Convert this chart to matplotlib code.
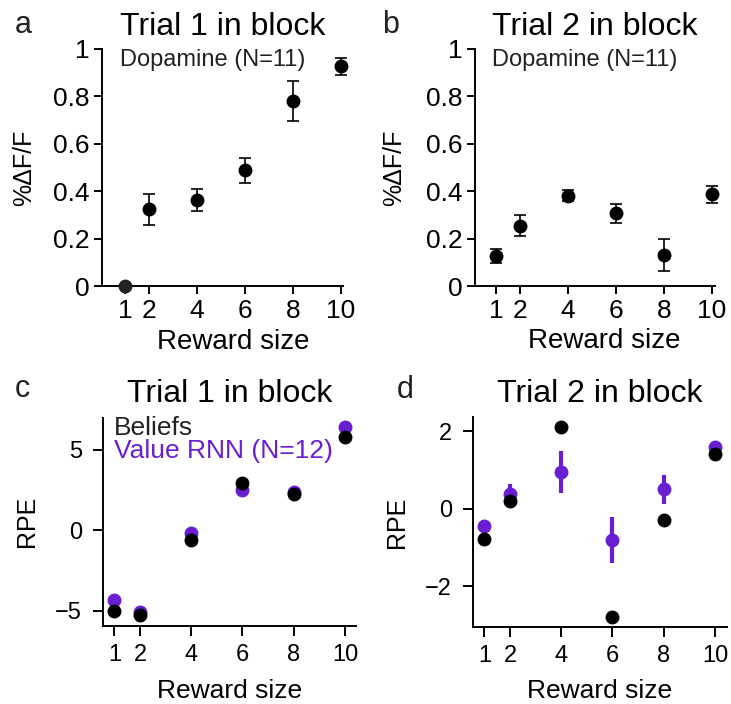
import matplotlib
matplotlib.use("Agg")
import matplotlib.pyplot as plt
import numpy as np

plt.rcParams['font.family'] = ['Liberation Sans', 'DejaVu Sans']
plt.rcParams['axes.unicode_minus'] = True

# ---------------- data ----------------
reward = [1, 2, 4, 6, 8, 10]
xticks = [1, 2, 4, 6, 8, 10]

da_trial1 = [0.0, 0.324, 0.362, 0.489, 0.781, 0.927]
da_trial1_err = [0.0, 0.066, 0.046, 0.053, 0.085, 0.035]
da_trial2 = [0.127, 0.254, 0.381, 0.306, 0.130, 0.388]
da_trial2_err = [0.031, 0.044, 0.024, 0.042, 0.068, 0.036]

rpe_t1_beliefs = [-5.00, -5.25, -0.58, 2.97, 2.28, 5.81]
rpe_t1_rnn = [-4.36, -5.06, -0.15, 2.53, 2.39, 6.41]
rpe_t1_rnn_err = [0.12, 0.12, 0.12, 0.12, 0.12, 0.12]

rpe_t2_beliefs = [-0.78, 0.21, 2.10, -2.80, -0.29, 1.41]
rpe_t2_rnn = [-0.44, 0.39, 0.94, -0.81, 0.50, 1.60]
rpe_t2_rnn_err = [0.08, 0.25, 0.54, 0.59, 0.38, 0.06]

PURPLE = '#6A1ED2'
W, H = 731, 704
fig = plt.figure(figsize=(W / 100, H / 100), dpi=100)


def add_axes_px(left, top, right, bottom):
    return fig.add_axes([left / W, 1 - bottom / H, (right - left) / W, (bottom - top) / H])


def style(ax, box, ylabel, xlabel_x_px, xlabel_base_px, ylabel_x_px,
          ticksize, ticklen, tickpad, xlabsize, ylabsize, ypad=None):
    left, top, right, bottom = box
    for s in ['top', 'right']:
        ax.spines[s].set_visible(False)
    for s in ['left', 'bottom']:
        ax.spines[s].set_linewidth(1.4)
    ax.tick_params(direction='out', length=ticklen, width=1.4, labelsize=ticksize, pad=tickpad)
    if ypad is not None:
        ax.tick_params(axis='y', pad=ypad)
    ax.set_xticks(xticks)
    ax.set_xlabel('Reward size', fontsize=xlabsize)
    ax.xaxis.set_label_coords((xlabel_x_px - left) / (right - left),
                              (bottom - xlabel_base_px) / (bottom - top))
    ax.xaxis.label.set_va('baseline')
    ax.set_ylabel(ylabel, fontsize=ylabsize)
    ax.yaxis.set_label_coords((ylabel_x_px - left) / (right - left), 0.5)
    ax.yaxis.label.set_va('center')


TOP_KW = dict(ticksize=19, ticklen=6, tickpad=3, xlabsize=20, ylabsize=18)
BOT_KW = dict(ticksize=17, ticklen=7, tickpad=6, xlabsize=19, ylabsize=18, ypad=8)

# ---------- panel a ----------
box_a = (101.7, 49, 343.3, 286)
ax = add_axes_px(*box_a)
ax.errorbar(reward[1:], da_trial1[1:], yerr=da_trial1_err[1:], fmt='o', color='black',
            ms=9, elinewidth=1.2, capsize=4, capthick=1.2, clip_on=False, zorder=3)
ax.plot(reward[:1], da_trial1[:1], 'o', color='#222222', ms=9, clip_on=False, zorder=4)
ax.set_xlim(0.03, 10.1)
ax.set_ylim(0, 1)
ax.set_yticks([0, 0.2, 0.4, 0.6, 0.8, 1])
ax.set_yticklabels(['0', '0.2', '0.4', '0.6', '0.8', '1'])
style(ax, box_a, '%ΔF/F', 233, 349, 24, **TOP_KW)
ax.set_title('Trial 1 in block', fontsize=23, pad=10)
ax.text(0.076, 0.928, 'Dopamine (N=11)', transform=ax.transAxes, fontsize=17,
        ha='left', va='baseline', color='#222222')

# ---------- panel b ----------
box_b = (475, 49, 714.5, 286)
ax = add_axes_px(*box_b)
ax.errorbar(reward, da_trial2, yerr=da_trial2_err, fmt='o', color='black',
            ms=9, elinewidth=1.2, capsize=4, capthick=1.2, clip_on=False, zorder=3)
ax.set_xlim(0.12, 10.1)
ax.set_ylim(0, 1)
ax.set_yticks([0, 0.2, 0.4, 0.6, 0.8, 1])
ax.set_yticklabels(['0', '0.2', '0.4', '0.6', '0.8', '1'])
style(ax, box_b, '%ΔF/F', 604.5, 348, 394, **TOP_KW)
ax.set_title('Trial 2 in block', fontsize=23, pad=10)
ax.text(0.07, 0.928, 'Dopamine (N=11)', transform=ax.transAxes, fontsize=17,
        ha='left', va='baseline', color='#222222')

# ---------- panel c ----------
box_c = (102.8, 417.7, 356.5, 626)
ax = add_axes_px(*box_c)
ax.errorbar(reward, rpe_t1_rnn, yerr=rpe_t1_rnn_err, fmt='o', color=PURPLE,
            ms=9, elinewidth=3, capsize=0, zorder=3)
ax.plot(reward, rpe_t1_beliefs, 'o', color='black', ms=9, zorder=4)
ax.set_xlim(0.55, 10.45)
ax.set_ylim(-5.95, 7.0)
ax.set_yticks([-5, 0, 5])
style(ax, box_c, 'RPE', 229.7, 698, 26.5, **BOT_KW)
ax.set_title('Trial 1 in block', fontsize=23, pad=11)
ax.text(0.044, 0.918, 'Beliefs', transform=ax.transAxes, fontsize=19,
        ha='left', va='baseline', color='#222222')
ax.text(0.044, 0.807, 'Value RNN (N=12)', transform=ax.transAxes, fontsize=19,
        ha='left', va='baseline', color=PURPLE)

# ---------- panel d ----------
box_d = (472.8, 417, 726.5, 627)
ax = add_axes_px(*box_d)
ax.errorbar(reward, rpe_t2_rnn, yerr=rpe_t2_rnn_err, fmt='o', color=PURPLE,
            ms=9, elinewidth=3, capsize=0, zorder=3)
ax.plot(reward, rpe_t2_beliefs, 'o', color='black', ms=9, zorder=4)
ax.set_xlim(0.55, 10.45)
ax.set_ylim(-3.05, 2.37)
ax.set_yticks([-2, 0, 2])
style(ax, box_d, 'RPE', 599.6, 698.5, 397.5, **BOT_KW)
ax.set_title('Trial 2 in block', fontsize=23, pad=11)

# ---------- panel letters ----------
for letter, xpx, ypx in [('a', 15, 33), ('b', 382, 33), ('c', 15, 397), ('d', 397, 398.5)]:
    fig.text(xpx / W, 1 - ypx / H, letter, fontsize=22, ha='left', va='baseline', color='#222222')

fig.savefig('out.png', dpi=100)
